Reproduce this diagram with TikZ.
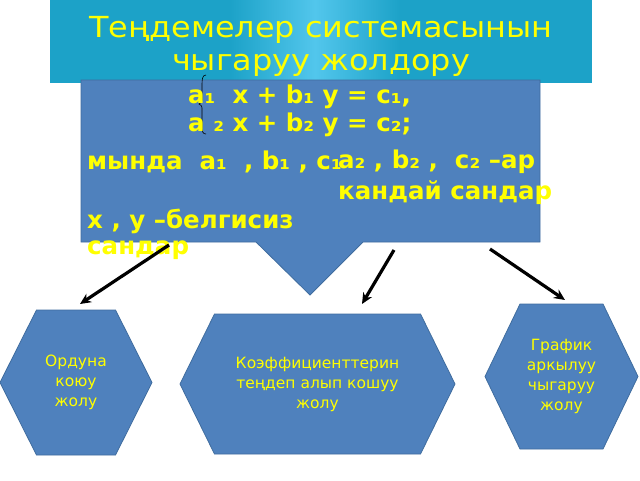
\documentclass[tikz,border=0pt]{standalone}
\usepackage{fontspec}
\setmainfont{DejaVu Sans}
\usetikzlibrary{arrows.meta}
\definecolor{ttlbg}{HTML}{1CA2C8}
\definecolor{ttlhi}{HTML}{52C6EC}
\definecolor{boxfill}{HTML}{4F81BD}
\definecolor{boxline}{HTML}{3F6C9E}
\definecolor{txtyel}{HTML}{FFFF00}
\begin{document}
\begin{tikzpicture}[x=1pt,y=-1pt,
  eqtext/.style={anchor=west,inner sep=0pt,text=txtyel,font=\fontsize{24.5}{27}\selectfont\bfseries},
  hextext/.style={align=center,text=txtyel,font=\fontsize{15.5}{20}\selectfont},
  flowarrow/.style={line width=3.2pt,-{Stealth[length=11pt,width=10pt]}}]
\useasboundingbox (0,0) rectangle (640,480);
% title
\fill[ttlbg] (50,0) rectangle (592,83);
\shade[left color=ttlbg,right color=ttlbg,middle color=ttlhi] (230,0) rectangle (400,83);
\node[text=txtyel,align=center,xscale=1.1,font=\fontsize{29}{33}\selectfont] (title) at (321,46) {Теңдемелер системасынын\\чыгаруу жолдору};
% callout
\filldraw[fill=boxfill,draw=boxline,line width=0.8pt] (81,80) -- (540,80) -- (540,242) -- (363,242) -- (310,295) -- (256,242) -- (81,242) -- cycle;
\draw[line width=0.6pt] (206,75) .. controls (202,75) and (202,80) .. (202,86) -- (202,98) .. controls (202,102) .. (199,104) .. controls (202,106) .. (202,110) -- (202,126) .. controls (202,132) and (203,134) .. (206,134);
\node[eqtext] (eqa) at (188,97) {a₁\ \ x + b₁ y = c₁,};
\node[eqtext] (eqb) at (188,125) {a ₂ x + b₂ y = c₂;};
\node[eqtext] (where) at (87,162) {мында\ \ a₁\ \ , b₁ , c₁};
\node[eqtext] (coef) at (338,162) {a₂ , b₂ ,\ \ c₂ –ар};
\node[eqtext] (which) at (338,193) {кандай сандар};
\node[eqtext] (xy) at (87,221) {x , y –белгисиз};
\node[eqtext] (nums) at (87,250) {сандар};
% ways
\foreach \n/\cx/\ty/\by/\tw/\mw/\t in {ord/76/310/455/39.5/76/{Ордуна\\коюу\\жолу},koef/317.5/314/454/103/137.5/{Коэффициенттерин\\теңдеп алып кошуу\\жолу},graf/561.5/304/449/41.5/76.5/{График\\аркылуу\\чыгаруу\\жолу}} {
  \filldraw[fill=boxfill,draw=boxline,line width=0.8pt] (\cx-\tw,\ty) -- (\cx+\tw,\ty) -- (\cx+\mw,{(\ty+\by)/2}) -- (\cx+\tw,\by) -- (\cx-\tw,\by) -- (\cx-\mw,{(\ty+\by)/2}) -- cycle;
  \node[hextext] (\n) at (\cx,{(\ty+\by)/2}) {\t};
}
% arrows
\coordinate (a1s) at (169,245);
\coordinate (a1e) at (80,304);
\coordinate (a2s) at (394,250);
\coordinate (a2e) at (362,304);
\coordinate (a3s) at (490,249);
\coordinate (a3e) at (565,300);
\draw[flowarrow] (a1s) -- (a1e);
\draw[flowarrow] (a2s) -- (a2e);
\draw[flowarrow] (a3s) -- (a3e);
\end{tikzpicture}
\end{document}
